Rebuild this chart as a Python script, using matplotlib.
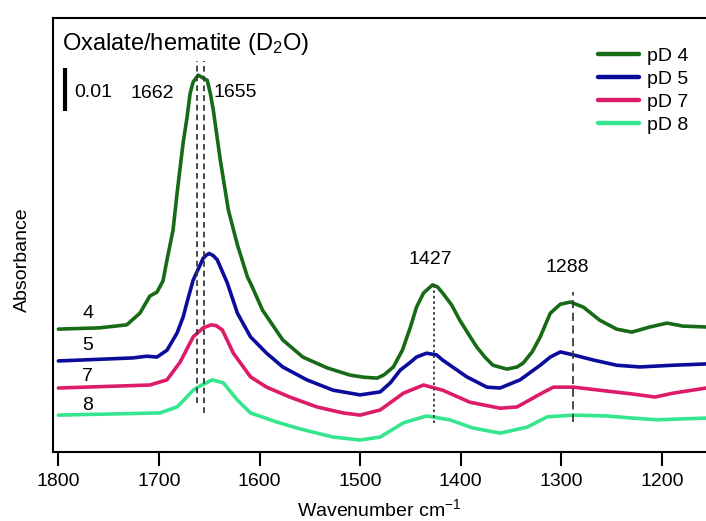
import matplotlib
matplotlib.use('Agg')
import matplotlib.pyplot as plt
import numpy as np

plt.rcParams['font.family'] = ['Liberation Sans', 'DejaVu Sans']
plt.rcParams['mathtext.fontset'] = 'custom'
plt.rcParams['mathtext.rm'] = 'Liberation Sans'
plt.rcParams['mathtext.it'] = 'Liberation Sans:italic'

# spectra (wavenumber cm-1, absorbance incl. offset)
wn_pd4 = [1800, 1759, 1732, 1719, 1709, 1702, 1696, 1692, 1689, 1686,
          1682, 1676, 1672, 1669, 1666, 1661, 1656, 1652, 1649, 1646,
          1639, 1631, 1622, 1612, 1609, 1597, 1577, 1557, 1533, 1510,
          1496, 1483, 1476, 1467, 1458, 1450, 1444, 1437, 1428, 1423,
          1418, 1409, 1401, 1393, 1384, 1376, 1368, 1354, 1344, 1338,
          1329, 1321, 1311, 1301, 1291, 1278, 1262, 1245, 1230, 1212,
          1195, 1179, 1156]
abs_pd4 = [0.0287, 0.0290, 0.0297, 0.0324, 0.0364, 0.0373, 0.0399, 0.0448, 0.0483, 0.0517,
           0.0603, 0.0720, 0.0781, 0.0836, 0.0862, 0.0878, 0.0871, 0.0866, 0.0836, 0.0797,
           0.0680, 0.0564, 0.0483, 0.0408, 0.0394, 0.0331, 0.0262, 0.0222, 0.0197, 0.0180,
           0.0175, 0.0173, 0.0181, 0.0199, 0.0238, 0.0292, 0.0338, 0.0371, 0.0390, 0.0385,
           0.0371, 0.0343, 0.0308, 0.0278, 0.0245, 0.0222, 0.0203, 0.0194, 0.0199, 0.0208,
           0.0234, 0.0269, 0.0324, 0.0345, 0.0350, 0.0338, 0.0308, 0.0287, 0.0280, 0.0292,
           0.0301, 0.0294, 0.0292]

wn_pd5 = [1800, 1726, 1712, 1702, 1692, 1682, 1676, 1671, 1666, 1656,
          1653, 1650, 1646, 1642, 1632, 1622, 1609, 1593, 1577, 1553,
          1527, 1500, 1480, 1470, 1460, 1450, 1444, 1434, 1424, 1418,
          1394, 1374, 1361, 1341, 1321, 1311, 1301, 1288, 1268, 1245,
          1222, 1189, 1156]
abs_pd5 = [0.0213, 0.0220, 0.0224, 0.0222, 0.0238, 0.0278, 0.0315, 0.0359, 0.0401, 0.0452,
           0.0459, 0.0463, 0.0458, 0.0448, 0.0394, 0.0324, 0.0269, 0.0231, 0.0199, 0.0169,
           0.0145, 0.0134, 0.0141, 0.0162, 0.0192, 0.0210, 0.0222, 0.0231, 0.0227, 0.0215,
           0.0176, 0.0152, 0.0150, 0.0169, 0.0203, 0.0222, 0.0234, 0.0227, 0.0215, 0.0203,
           0.0199, 0.0203, 0.0206]

wn_pd7 = [1800, 1709, 1692, 1679, 1666, 1656, 1648, 1643, 1637, 1626,
          1609, 1593, 1570, 1543, 1517, 1500, 1480, 1457, 1437, 1418,
          1391, 1361, 1344, 1321, 1308, 1288, 1255, 1229, 1207, 1189,
          1156]
abs_pd7 = [0.0150, 0.0157, 0.0169, 0.0210, 0.0269, 0.0290, 0.0297, 0.0295, 0.0285, 0.0231,
           0.0176, 0.0152, 0.0129, 0.0106, 0.0092, 0.0087, 0.0099, 0.0138, 0.0157, 0.0145,
           0.0117, 0.0103, 0.0106, 0.0136, 0.0152, 0.0152, 0.0143, 0.0136, 0.0129, 0.0138,
           0.0150]

wn_pd8 = [1800, 1699, 1682, 1676, 1666, 1659, 1647, 1636, 1622, 1609,
          1583, 1560, 1527, 1500, 1480, 1457, 1434, 1411, 1388, 1361,
          1334, 1314, 1288, 1255, 1229, 1205, 1182, 1156]
abs_pd8 = [0.0087, 0.0092, 0.0106, 0.0120, 0.0145, 0.0155, 0.0169, 0.0162, 0.0122, 0.0092,
           0.0071, 0.0055, 0.0036, 0.0029, 0.0036, 0.0069, 0.0085, 0.0076, 0.0057, 0.0045,
           0.0059, 0.0083, 0.0087, 0.0085, 0.0080, 0.0076, 0.0078, 0.0080]

series_labels = ['pD 4', 'pD 5', 'pD 7', 'pD 8']
curve_tags = ['4', '5', '7', '8']
tag_y = [0.0324, 0.0250, 0.0176, 0.0110]
colors = ['#176b17', '#0c0c9c', '#dc1c68', '#36e68e']

# marked bands: position, line top, line bottom
band_pos = [1662, 1655, 1427, 1288]
band_top = [0.0910, 0.0910, 0.0394, 0.0373]
band_bot = [0.0115, 0.0092, 0.0069, 0.0071]
scale_bar = 0.01

fig = plt.figure(figsize=(7.06, 5.21), dpi=100)
ax = fig.add_axes([0.0744, 0.1315, 0.9256, 0.8349])

curves = [(wn_pd4, abs_pd4), (wn_pd5, abs_pd5), (wn_pd7, abs_pd7), (wn_pd8, abs_pd8)]
for (wn, ab), lab, c in zip(curves, series_labels, colors):
    ax.plot(wn, ab, color=c, lw=2.6, label=lab, solid_joinstyle='round', solid_capstyle='round')

dash_styles = [(3.2, 2.2), (3.2, 2.2), (1.4, 1.6), (4.5, 2.5)]
for pos, top, bot, ds in zip(band_pos, band_top, band_bot, dash_styles):
    ax.plot([pos, pos], [bot, top], color='#3a3a3a', lw=1.3, dashes=ds)

# scale bar
ax.plot([1793.3, 1793.3], [0.0794, 0.0794 + scale_bar], color='black', lw=3.0, solid_capstyle='butt')
ax.text(1784.5, 0.0838, f'{scale_bar:g}', fontsize=14, va='center', ha='left')

ax.text(1707, 0.0835, '1662', fontsize=14, ha='center', va='center')
ax.text(1624, 0.0838, '1655', fontsize=14, ha='center', va='center')
ax.text(1430, 0.0448, '1427', fontsize=14, ha='center', va='center')
ax.text(1294, 0.0431, '1288', fontsize=14, ha='center', va='center')

for t, y in zip(curve_tags, tag_y):
    ax.text(1771, y, t, fontsize=14, ha='center', va='center')

ax.text(1796.5, 0.0950, 'Oxalate/hematite (D$_\\mathrm{2}$O)', fontsize=17, ha='left', va='center')

ax.set_xlim(1805.8, 1156.2)
ax.set_ylim(0, 0.1012)
ax.set_xticks([1800, 1700, 1600, 1500, 1400, 1300, 1200])
ax.set_yticks([])
ax.tick_params(axis='x', direction='out', length=10, width=1.5, labelsize=14, pad=5)
for s in ['left', 'top', 'bottom']:
    ax.spines[s].set_linewidth(1.5)
ax.spines['right'].set_visible(False)

ax.set_xlabel('Wavenumber cm$^{-1}$', fontsize=14, labelpad=6)
fig.text(22 / 706, 1 - 260 / 521, 'Absorbance', rotation=90, fontsize=14, ha='center', va='center')

leg = ax.legend(loc='upper left', bbox_to_anchor=(598 / 706, 1 - 47 / 521), bbox_transform=fig.transFigure,
                frameon=False, fontsize=14, handlelength=2.1, handletextpad=0.4, labelspacing=0.28,
                borderpad=0, borderaxespad=0)
for h in leg.get_lines():
    h.set_linewidth(3.2)

fig.savefig('out.png', dpi=100)
